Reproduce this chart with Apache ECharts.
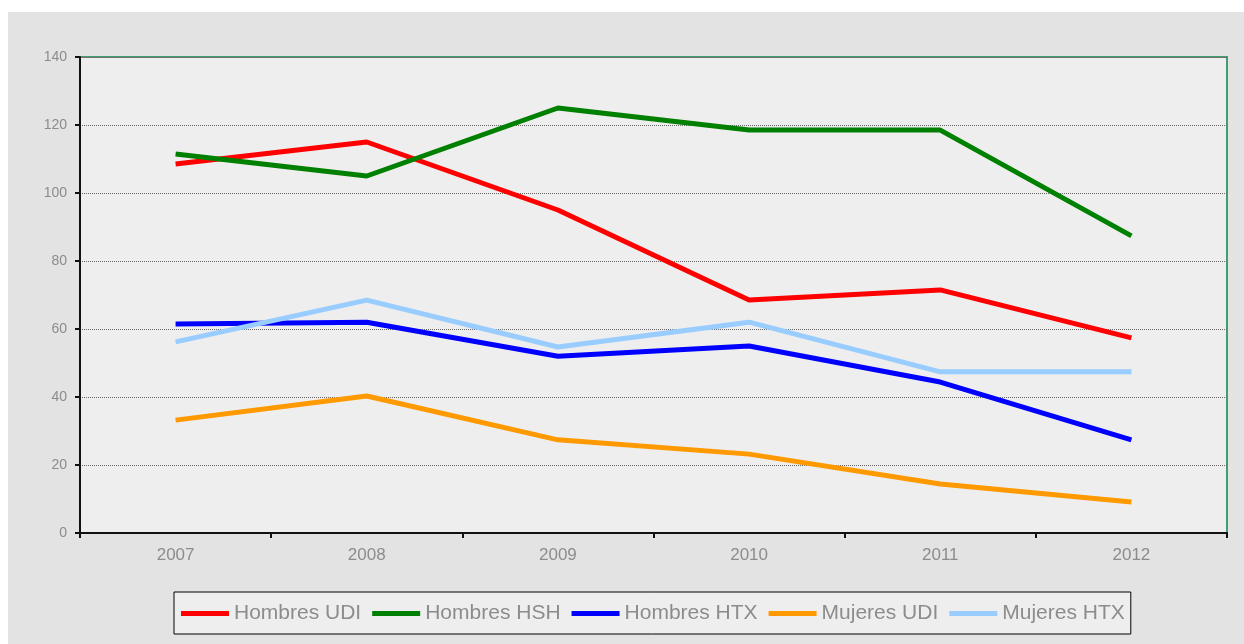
<!DOCTYPE html>
<html>
<head>
<meta charset="utf-8">
<script src="https://cdn.jsdelivr.net/npm/echarts@6/dist/echarts.min.js"></script>
<style>
  html, body { margin: 0; padding: 0; background: #ffffff; }
  #main { width: 1244px; height: 644px; }
</style>
</head>
<body>
<div id="main"></div>
<script>
// categorias (años)
var years = ['2007', '2008', '2009', '2010', '2011', '2012'];
// series
var hombresUDI = [108.5, 115, 95, 68.5, 71.5, 57.4];
var hombresHSH = [111.5, 105, 125, 118.5, 118.5, 87.4];
var hombresHTX = [61.5, 62, 52, 55, 44.4, 27.4];
var mujeresUDI = [33.2, 40.3, 27.4, 23.2, 14.4, 9.1];
var mujeresHTX = [56.2, 68.5, 54.7, 62, 47.4, 47.4];

var names = ['Hombres UDI', 'Hombres HSH', 'Hombres HTX', 'Mujeres UDI', 'Mujeres HTX'];
var colors = ['#ff0000', '#008000', '#0000ff', '#ff9900', '#99ccff'];
var values = [hombresUDI, hombresHSH, hombresHTX, mujeresUDI, mujeresHTX];

var chart = echarts.init(document.getElementById('main'));

var series = names.map(function (n, i) {
  return {
    name: n,
    type: 'line',
    data: values[i],
    symbol: 'none',
    color: colors[i],
    lineStyle: { width: 5, color: colors[i] }
  };
});

chart.setOption({
  animation: false,
  backgroundColor: '#ffffff',
  graphic: [{
    type: 'rect',
    z: -10,
    shape: { x: 8, y: 12, width: 1236, height: 632 },
    style: { fill: '#e3e3e3' }
  }],
  grid: {
    left: 80, right: 17, top: 57, bottom: 111,
    show: true,
    backgroundColor: '#eeeeee',
    borderColor: '#3f9f6f',
    borderWidth: 2
  },
  legend: {
    data: names,
    left: 174,
    top: 592,
    padding: [11, 6, 10, 7],
    backgroundColor: '#eeeeee',
    borderColor: '#000000',
    borderWidth: 1,
    icon: 'rect',
    itemWidth: 48,
    itemHeight: 5,
    itemGap: 11,
    textStyle: { color: '#8c8c8c', fontSize: 21, fontFamily: 'Arial, sans-serif' }
  },
  xAxis: {
    type: 'category',
    data: years,
    boundaryGap: true,
    axisLine: { lineStyle: { color: '#111', width: 2 } },
    axisTick: { show: true, length: 5, lineStyle: { color: '#111', width: 2 } },
    axisLabel: { color: '#8c8c8c', fontSize: 17, margin: 14, fontFamily: 'Arial, sans-serif' },
    splitLine: { show: false }
  },
  yAxis: {
    type: 'value',
    min: 0,
    max: 140,
    interval: 20,
    axisLine: { show: true, lineStyle: { color: '#111', width: 2 } },
    axisTick: { show: true, length: 5, lineStyle: { color: '#111', width: 2 } },
    axisLabel: { color: '#8c8c8c', fontSize: 14, margin: 13, fontFamily: 'Arial, sans-serif' },
    splitLine: { show: true, lineStyle: { color: '#666', width: 1, type: 'dotted' } }
  },
  series: series
});
</script>
</body>
</html>
